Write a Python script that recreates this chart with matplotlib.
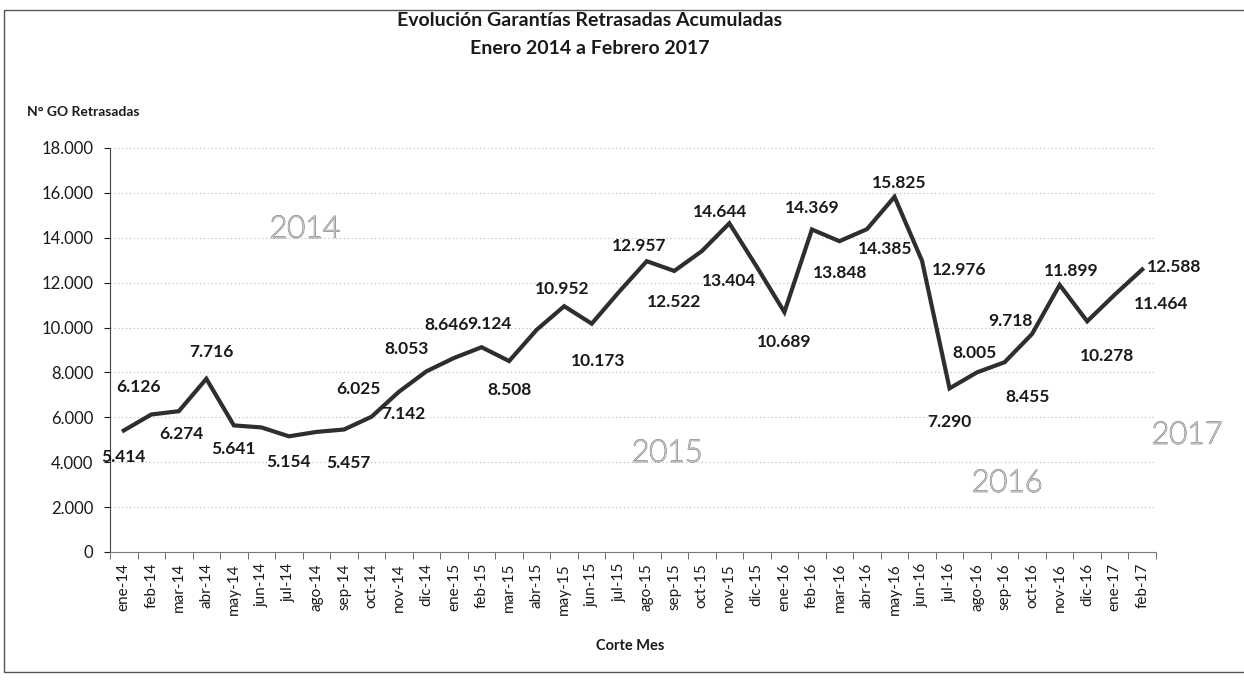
import matplotlib
matplotlib.use('Agg')
import matplotlib.pyplot as plt
import matplotlib.patheffects as pe
from matplotlib.patches import Rectangle
from matplotlib.ticker import FixedLocator, FuncFormatter

plt.rcParams['font.family'] = ['Lato', 'DejaVu Sans']

months = ['ene-14', 'feb-14', 'mar-14', 'abr-14', 'may-14', 'jun-14', 'jul-14', 'ago-14',
          'sep-14', 'oct-14', 'nov-14', 'dic-14', 'ene-15', 'feb-15', 'mar-15', 'abr-15',
          'may-15', 'jun-15', 'jul-15', 'ago-15', 'sep-15', 'oct-15', 'nov-15', 'dic-15',
          'ene-16', 'feb-16', 'mar-16', 'abr-16', 'may-16', 'jun-16', 'jul-16', 'ago-16',
          'sep-16', 'oct-16', 'nov-16', 'dic-16', 'ene-17', 'feb-17']
values = [5414, 6126, 6274, 7716, 5641, 5550, 5154, 5350,
          5457, 6025, 7142, 8053, 8646, 9124, 8508, 9900,
          10952, 10173, 11600, 12957, 12522, 13404, 14644, 12700,
          10689, 14369, 13848, 14385, 15825, 12976, 7290, 8005,
          8455, 9718, 11899, 10278, 11464, 12588]
labeled = [True, True, True, True, True, False, True, False,
           True, True, True, True, True, True, True, False,
           True, True, False, True, True, True, True, False,
           True, True, True, True, True, True, True, True,
           True, True, True, True, True, True]
years = ['2014', '2015', '2016', '2017']

# label offsets in pixels (dx right, dy down)
label_offsets = [(0, 27), (-13, -28), (3, 23), (5, -27), (0, 24), None, (0, 26), None,
                 (4, 33), (-13, -28), (4, 22), (-20, -22), (-8, -33), (8, -23), (0, 29), None,
                 (-2, -17), (6, 37), None, (-8, -15), (0, 31), (27, 30), (-9, -11), None,
                 (0, 30), (0, -21), (1, 32), (18, 20), (5, -14), (37, 9), (0, 34), (-3, -19),
                 (23, 35), (-22, -13), (12, -14), (20, 35), (46, 9), (32, -2)]
year_pos = [(305, 229), (667, 453), (1007, 483), (1187, 435)]

W, H = 1244, 680
fig = plt.figure(figsize=(W / 100, H / 100), dpi=100)
ax = fig.add_axes([110 / W, 128 / H, 1046 / W, 404 / H])

x = list(range(len(months)))
ax.plot(x, values, color='#2e2e2e', lw=3.0, solid_joinstyle='miter', zorder=3)

def fmt(v):
    return f"{int(v):,}".replace(',', '.')

for i, (v, show) in enumerate(zip(values, labeled)):
    if not show:
        continue
    dx, dy = label_offsets[i]
    ax.annotate(fmt(v), (i, v), xytext=(dx, -dy), textcoords='offset pixels',
                ha='center', va='center', fontsize=12.5, fontweight='bold',
                color='#1a1a1a', zorder=4, annotation_clip=False)

ax.set_xlim(-0.5, len(months) - 0.5)
ax.set_ylim(0, 18000)
ax.set_yticks(range(0, 18001, 2000))
ax.yaxis.set_major_formatter(FuncFormatter(lambda v, p: fmt(v)))
ax.set_xticks(x)
ax.set_xticklabels(months, rotation=90, fontsize=11, color='#1a1a1a')
ax.xaxis.set_minor_locator(FixedLocator([i - 0.5 for i in range(len(months) + 1)]))
ax.tick_params(axis='x', which='major', length=0, pad=8)
ax.tick_params(axis='x', which='minor', length=5, direction='out', color='#555555')
ax.tick_params(axis='y', length=4, direction='out', labelsize=12, colors='#1a1a1a', pad=8)
ax.yaxis.grid(True, linestyle=(0, (1, 2.5)), color='#b5b5b5', lw=0.8)
ax.set_axisbelow(True)
for s in ['top', 'right']:
    ax.spines[s].set_visible(False)
ax.spines['left'].set_color('#444444')
ax.spines['bottom'].set_color('#777777')
ax.spines['bottom'].set_linestyle((0, (2, 1)))

fig.text(590 / W, 1 - 20 / H, 'Evolución Garantías Retrasadas Acumuladas',
         ha='center', va='center', fontsize=14, fontweight='bold', color='#1a1a1a')
fig.text(590 / W, 1 - 48 / H, 'Enero 2014 a Febrero 2017',
         ha='center', va='center', fontsize=14, fontweight='bold', color='#1a1a1a')
fig.text(27 / W, 1 - 112 / H, 'N° GO Retrasadas', ha='left', va='center',
         fontsize=10, fontweight='bold', color='#1a1a1a')
fig.text(630 / W, 1 - 646 / H, 'Corte Mes', ha='center', va='center',
         fontsize=10.5, fontweight='bold', color='#1a1a1a')

for yr, (px, py) in zip(years, year_pos):
    fig.text(px / W, 1 - py / H, yr, ha='center', va='center', fontsize=22,
             fontweight='light', color='white',
             path_effects=[pe.withStroke(linewidth=1.3, foreground='#a0a0a0')])

fig.add_artist(Rectangle((4 / W, 8 / H), 1.2, (H - 18) / H, transform=fig.transFigure,
                         fill=False, lw=1.0, ec='#555555'))

fig.savefig('out.png', dpi=100, facecolor='white')
